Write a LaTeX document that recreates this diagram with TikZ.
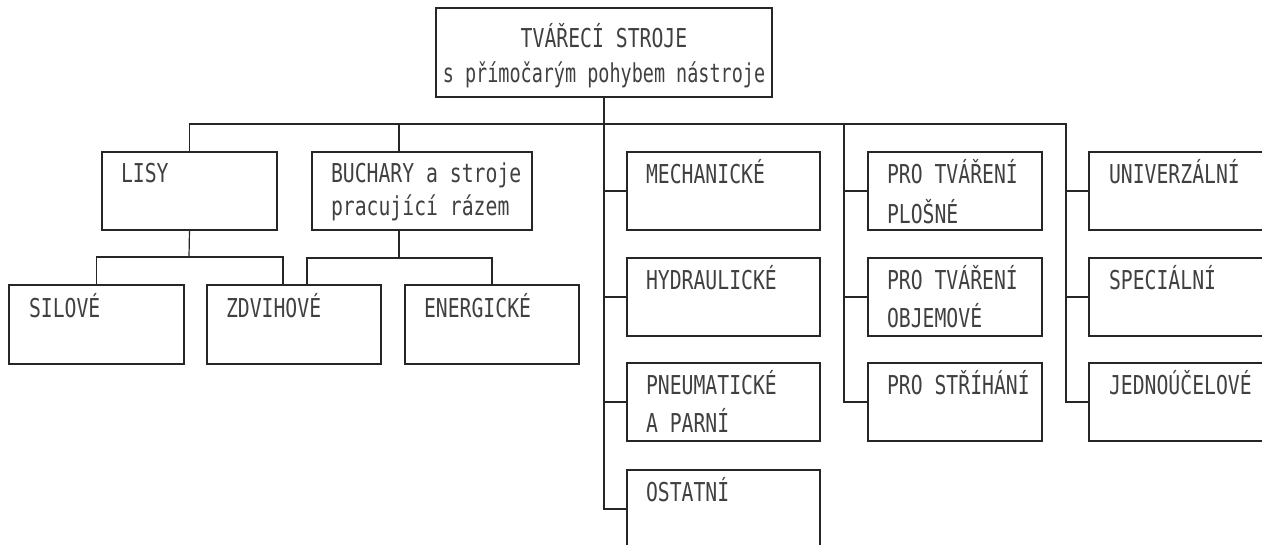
\documentclass[tikz,border=0pt]{standalone}
\usepackage{fontspec}
\setmainfont{DejaVu Sans Mono}[FakeStretch=0.76]
\newfontfamily\narrowmono{DejaVu Sans Mono}[FakeStretch=0.71]
\newcommand\twolines[3]{\vtop{\baselineskip=#1\hbox{#2}\hbox{#3}}}
\newcommand\twocentered[3]{\vtop{\baselineskip=#1\hbox to 0pt{\hss #2\hss}\hbox to 0pt{\hss #3\hss}}}
\begin{document}
\begin{tikzpicture}[x=1pt,y=-1pt,
  box/.style={draw=black!85, line width=1.4pt, inner sep=0pt, outer sep=0pt},
  conn/.style={draw=black!85, line width=1.2pt},
  lbl/.style={anchor=base west, inner sep=0pt, outer sep=0pt, text=black!75, font=\fontsize{26}{38}\selectfont}]
\useasboundingbox (0,0) rectangle (1262,544);
\clip (0,0) rectangle (1262,544);
% boxes
\node[box, minimum width=336, minimum height=89] (top) at (604,52.5) {};
\node[box, minimum width=175, minimum height=78] (lisy) at (189.5,191) {};
\node[box, minimum width=220, minimum height=78] (buch) at (422,191) {};
\node[box, minimum width=175, minimum height=79] (silove) at (96.5,324.5) {};
\node[box, minimum width=174, minimum height=79] (zdvih) at (294,324.5) {};
\node[box, minimum width=174, minimum height=79] (energ) at (492,324.5) {};
\node[box, minimum width=193, minimum height=78] (mech) at (723.5,191) {};
\node[box, minimum width=193, minimum height=78] (hydr) at (723.5,297) {};
\node[box, minimum width=193, minimum height=78] (pneu) at (723.5,402) {};
\node[box, minimum width=193, minimum height=78] (ostat) at (723.5,509) {};
\node[box, minimum width=174, minimum height=78] (proa) at (955,191) {};
\node[box, minimum width=174, minimum height=78] (prob) at (955,297) {};
\node[box, minimum width=174, minimum height=78] (proc) at (955,402) {};
\node[box, minimum width=211, minimum height=78] (uni) at (1194.5,191) {};
\node[box, minimum width=211, minimum height=78] (spec) at (1194.5,297) {};
\node[box, minimum width=211, minimum height=78] (jedn) at (1194.5,402) {};
% labels
\node[lbl, anchor=base] (ttop) at (604,47) {\twocentered{35pt}{TVÁŘECÍ STROJE}{\narrowmono s přímočarým pohybem nástroje}};
\node[lbl] (tlisy) at ([shift={(19,30)}]lisy.north west) {LISY};
\node[lbl] (tbuch) at ([shift={(19,30)}]buch.north west) {\twolines{33pt}{BUCHARY a stroje}{pracující rázem}};
\node[lbl] (tsilove) at ([shift={(20,32)}]silove.north west) {SILOVÉ};
\node[lbl] (tzdvih) at ([shift={(19,32)}]zdvih.north west) {ZDVIHOVÉ};
\node[lbl] (tenerg) at ([shift={(19,32)}]energ.north west) {ENERGICKÉ};
\node[lbl] (tmech) at ([shift={(19,31)}]mech.north west) {MECHANICKÉ};
\node[lbl] (thydr) at ([shift={(19,31)}]hydr.north west) {HYDRAULICKÉ};
\node[lbl] (tpneu) at ([shift={(19,31)}]pneu.north west) {\twolines{38pt}{PNEUMATICKÉ}{A PARNÍ}};
\node[lbl] (tostat) at ([shift={(19,31)}]ostat.north west) {OSTATNÍ};
\node[lbl] (tproa) at ([shift={(19,31)}]proa.north west) {\twolines{40pt}{PRO TVÁŘENÍ}{PLOŠNÉ}};
\node[lbl] (tprob) at ([shift={(19,31)}]prob.north west) {\twolines{38pt}{PRO TVÁŘENÍ}{OBJEMOVÉ}};
\node[lbl] (tproc) at ([shift={(19,31)}]proc.north west) {PRO STŘÍHÁNÍ};
\node[lbl] (tuni) at ([shift={(20,31)}]uni.north west) {UNIVERZÁLNÍ};
\node[lbl] (tspec) at ([shift={(20,31)}]spec.north west) {SPECIÁLNÍ};
\node[lbl] (tjedn) at ([shift={(20,31)}]jedn.north west) {JEDNOÚČELOVÉ};
% junction coordinates
\coordinate (busL) at (189,124);
\coordinate (busB) at (399,124);
\coordinate (busP) at (844,124);
\coordinate (busR) at (1066,124);
\coordinate (lj) at (189,257);
\coordinate (bj) at (399,258);
\coordinate (zl) at (283,285);
\coordinate (zr) at (307,285);
\coordinate (bt) at (399,152);
\coordinate (bb) at (399,230);
% connectors
\draw[conn] (top.south) |- (ostat.west);
\draw[conn] (mech.west) -- (mech.west -| top.south);
\draw[conn] (hydr.west) -- (hydr.west -| top.south);
\draw[conn] (pneu.west) -- (pneu.west -| top.south);
\draw[conn] (lisy.north) |- (busR) |- (jedn.west);
\draw[conn] (bt) -- (busB);
\draw[conn] (busP) |- (proc.west);
\draw[conn] (proa.west) -- (proa.west -| busP);
\draw[conn] (prob.west) -- (prob.west -| busP);
\draw[conn] (uni.west) -- (uni.west -| busR);
\draw[conn] (spec.west) -- (spec.west -| busR);
\draw[conn] (lisy.south) -- (lj);
\draw[conn] (silove.north) |- (lj) -| (zl);
\draw[conn] (bb) -- (bj);
\draw[conn] (zr) |- (bj) -| (energ.north);
\end{tikzpicture}
\end{document}
